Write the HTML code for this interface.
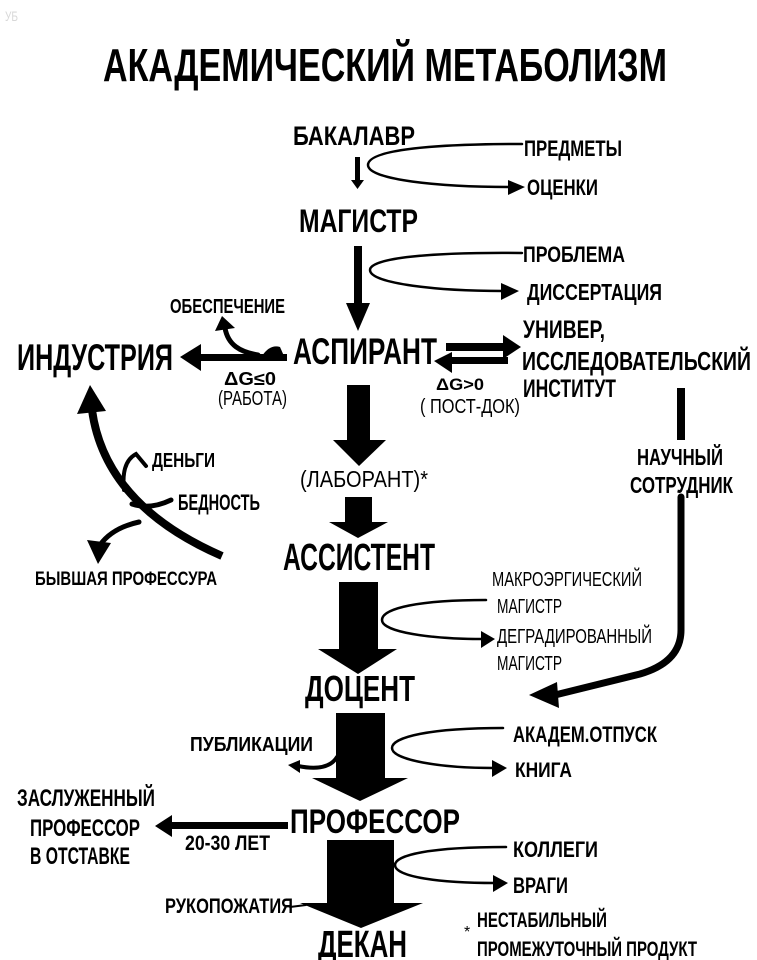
<!DOCTYPE html>
<html><head><meta charset="utf-8"><style>
html,body{margin:0;padding:0;background:#fff;}
svg{display:block}
text{font-family:"Liberation Sans","DejaVu Sans",sans-serif;font-weight:bold;fill:#000}
.n{font-weight:normal}
</style></head><body>
<svg width="757" height="960" viewBox="0 0 757 960" xmlns="http://www.w3.org/2000/svg">
<rect width="757" height="960" fill="#fff"/>
<text x="5" y="21" font-size="14" textLength="13" lengthAdjust="spacingAndGlyphs" style="fill:#d8d8d8" class="n">УБ</text>
<text x="103" y="81" font-size="46" textLength="564" lengthAdjust="spacingAndGlyphs">АКАДЕМИЧЕСКИЙ МЕТАБОЛИЗМ</text>

<!-- Main column labels -->
<text x="293" y="145" font-size="27" textLength="122" lengthAdjust="spacingAndGlyphs">БАКАЛАВР</text>
<text x="299" y="232" font-size="32" textLength="119" lengthAdjust="spacingAndGlyphs">МАГИСТР</text>
<text x="293" y="364" font-size="37" textLength="144" lengthAdjust="spacingAndGlyphs">АСПИРАНТ</text>
<text x="300" y="487" font-size="23" textLength="128" lengthAdjust="spacingAndGlyphs" class="n">(ЛАБОРАНТ)*</text>
<text x="283" y="570" font-size="38" textLength="152" lengthAdjust="spacingAndGlyphs">АССИСТЕНТ</text>
<text x="305" y="701" font-size="36" textLength="110" lengthAdjust="spacingAndGlyphs">ДОЦЕНТ</text>
<text x="290" y="833" font-size="34" textLength="170" lengthAdjust="spacingAndGlyphs">ПРОФЕССОР</text>
<text x="318" y="957" font-size="38" textLength="89" lengthAdjust="spacingAndGlyphs">ДЕКАН</text>

<!-- Right labels -->
<text x="524" y="156" font-size="22" textLength="98" lengthAdjust="spacingAndGlyphs">ПРЕДМЕТЫ</text>
<text x="527" y="195" font-size="22" textLength="71" lengthAdjust="spacingAndGlyphs">ОЦЕНКИ</text>
<text x="523" y="262" font-size="22" textLength="102" lengthAdjust="spacingAndGlyphs">ПРОБЛЕМА</text>
<text x="527" y="300" font-size="23" textLength="135" lengthAdjust="spacingAndGlyphs">ДИССЕРТАЦИЯ</text>
<text x="523" y="338" font-size="25" textLength="82" lengthAdjust="spacingAndGlyphs">УНИВЕР,</text>
<text x="522" y="370" font-size="26" textLength="229" lengthAdjust="spacingAndGlyphs">ИССЛЕДОВАТЕЛЬСКИЙ</text>
<text x="523" y="397" font-size="25" textLength="93" lengthAdjust="spacingAndGlyphs">ИНСТИТУТ</text>
<text x="436" y="390" font-size="17" textLength="48" lengthAdjust="spacingAndGlyphs">ΔG&gt;0</text>
<text x="420" y="413" font-size="20" textLength="100" lengthAdjust="spacingAndGlyphs" class="n">( ПОСТ-ДОК)</text>
<text x="637" y="465" font-size="23" textLength="86" lengthAdjust="spacingAndGlyphs">НАУЧНЫЙ</text>
<text x="630" y="493" font-size="23" textLength="103" lengthAdjust="spacingAndGlyphs">СОТРУДНИК</text>
<text x="492" y="586" font-size="20" textLength="150" lengthAdjust="spacingAndGlyphs" class="n">МАКРОЭРГИЧЕСКИЙ</text>
<text x="497" y="613" font-size="20" textLength="65" lengthAdjust="spacingAndGlyphs" class="n">МАГИСТР</text>
<text x="497" y="643" font-size="20" textLength="155" lengthAdjust="spacingAndGlyphs" class="n">ДЕГРАДИРОВАННЫЙ</text>
<text x="497" y="670" font-size="20" textLength="65" lengthAdjust="spacingAndGlyphs" class="n">МАГИСТР</text>
<text x="513" y="742" font-size="22" textLength="144" lengthAdjust="spacingAndGlyphs">АКАДЕМ.ОТПУСК</text>
<text x="515" y="777" font-size="21" textLength="57" lengthAdjust="spacingAndGlyphs">КНИГА</text>
<text x="513" y="857" font-size="22" textLength="85" lengthAdjust="spacingAndGlyphs">КОЛЛЕГИ</text>
<text x="513" y="893" font-size="22" textLength="55" lengthAdjust="spacingAndGlyphs">ВРАГИ</text>
<text x="464" y="937" font-size="16" class="n">*</text>
<text x="477" y="927" font-size="21" textLength="130" lengthAdjust="spacingAndGlyphs">НЕСТАБИЛЬНЫЙ</text>
<text x="477" y="956" font-size="21" textLength="220" lengthAdjust="spacingAndGlyphs">ПРОМЕЖУТОЧНЫЙ ПРОДУКТ</text>

<!-- Left labels -->
<text x="17" y="370" font-size="37" textLength="156" lengthAdjust="spacingAndGlyphs">ИНДУСТРИЯ</text>
<text x="170" y="313" font-size="20" textLength="115" lengthAdjust="spacingAndGlyphs">ОБЕСПЕЧЕНИЕ</text>
<text x="224" y="385" font-size="18" textLength="52" lengthAdjust="spacingAndGlyphs">ΔG≤0</text>
<text x="218" y="405" font-size="20" textLength="69" lengthAdjust="spacingAndGlyphs" class="n">(РАБОТА)</text>
<text x="152" y="467" font-size="20" textLength="63" lengthAdjust="spacingAndGlyphs">ДЕНЬГИ</text>
<text x="178" y="510" font-size="22" textLength="82" lengthAdjust="spacingAndGlyphs">БЕДНОСТЬ</text>
<text x="35" y="585" font-size="19" textLength="182" lengthAdjust="spacingAndGlyphs">БЫВШАЯ ПРОФЕССУРА</text>
<text x="190" y="751" font-size="20" textLength="123" lengthAdjust="spacingAndGlyphs">ПУБЛИКАЦИИ</text>
<text x="17" y="806" font-size="24" textLength="138" lengthAdjust="spacingAndGlyphs">ЗАСЛУЖЕННЫЙ</text>
<text x="30" y="836" font-size="24" textLength="110" lengthAdjust="spacingAndGlyphs">ПРОФЕССОР</text>
<text x="30" y="864" font-size="24" textLength="100" lengthAdjust="spacingAndGlyphs">В ОТСТАВКЕ</text>
<text x="185" y="850" font-size="21" textLength="85" lengthAdjust="spacingAndGlyphs">20-30 ЛЕТ</text>
<text x="165" y="913" font-size="21" textLength="128" lengthAdjust="spacingAndGlyphs">РУКОПОЖАТИЯ</text>

<g fill="#000" stroke="none">
<!-- Bakalavr -> Magistr -->
<rect x="355" y="157" width="5" height="24"/>
<polygon points="351,180 364,180 357.5,189"/>
<!-- Magistr -> Aspirant -->
<rect x="354" y="246" width="8" height="60"/>
<polygon points="346,303 370,303 358,331"/>
<!-- Aspirant -> Laborant -->
<polygon points="347,385 370,385 370,440 386,440 359,466 333,440 347,440"/>
<!-- Laborant -> Assistent -->
<polygon points="345,497 372,497 372,522 388,522 358,538 329,522 345,522"/>
<!-- Assistent -> Dotsent -->
<polygon points="339,582 378,582 378,649 397,649 358,674 318,649 339,649"/>
<!-- Dotsent -> Professor -->
<polygon points="336,713 385,713 385,778 408,778 360,801 312,778 336,778"/>
<!-- Professor -> Dekan -->
<polygon points="327,840 394,840 394,903 423,903 361,928 300,903 327,903"/>

<!-- Aspirant -> Industry -->
<rect x="195" y="354" width="92" height="7"/>
<polygon points="201,344 201,371 180,357"/>
<!-- bump -->
<path d="M262 356 Q270 344 280 347 L284 356 Z"/>
<!-- Double arrows -->
<rect x="446" y="343" width="59" height="8"/>
<polygon points="503,335 503,359 521,347"/>
<rect x="450" y="357" width="58" height="7"/>
<polygon points="452,352 452,373 434,361"/>
<!-- arrowheads of thin loops -->
<polygon points="508,180 508,195 525,187"/>
<polygon points="501,283 501,300 519,291"/>
<polygon points="481,631 481,648 495,639"/>
<polygon points="492,760 492,777 507,768"/>
<polygon points="493,875 493,892 508,883"/>
<!-- Obespechenie arrowhead -->
<polygon points="215,331 235,328 222,316"/>
<!-- Industry big arrowhead -->
<polygon points="77,414 106,411 90,385"/>
<!-- former professorship arrowhead -->
<polygon points="87,540 111,543 98,564"/>
<!-- nauchny arrowhead -->
<polygon points="557,682 559,708 529,695"/>
<!-- zasluzhenny -->
<rect x="168" y="822" width="120" height="7"/>
<polygon points="172,815 172,837 155,826"/>
<!-- publikacii head -->
<polygon points="288,765 300,760 300,773"/>
</g>

<g fill="none" stroke="#000" stroke-linecap="round">
<!-- loops -->
<path d="M522 144 C430 144 368 150 368 165 C368 180 440 187 510 187" stroke-width="2.5"/>
<path d="M522 253 C430 252 370 258 370 270 C370 284 440 291 503 291" stroke-width="2.5"/>
<path d="M486 600 C420 600 382 608 382 620 C382 632 430 639 483 639" stroke-width="2.5"/>
<path d="M503 728 C430 728 392 737 392 748 C392 760 440 768 494 768" stroke-width="2.5"/>
<path d="M506 847 C430 847 395 855 395 865 C395 877 440 883 495 883" stroke-width="2.5"/>
<!-- obespechenie branch -->
<path d="M258 355 C240 352 228 345 225 328" stroke-width="5"/>
<!-- right line -->
<path d="M681 388 L681 440" stroke-width="8" stroke-linecap="butt"/>
<path d="M681 497 L681 630 Q681 662 640 674 L555 695" stroke-width="7"/>
<!-- big left curve -->
<path d="M92 410 Q105 505 222 556" stroke-width="8" stroke-linecap="butt"/>
<!-- dengi hook -->
<path d="M124 490 Q121 462 136 454 L146 466" stroke-width="4"/>
<!-- bednost branch -->
<path d="M171 500 Q150 510 132 504" stroke-width="5"/>
<!-- former prof -->
<path d="M139 522 Q112 528 100 545" stroke-width="5"/>
<!-- publikacii -->
<path d="M337 757 Q328 772 298 766" stroke-width="4"/>
<!-- rukopozhatiya -->
<path d="M290 907 L306 905" stroke-width="2"/>
</g>
</svg>
</body></html>
